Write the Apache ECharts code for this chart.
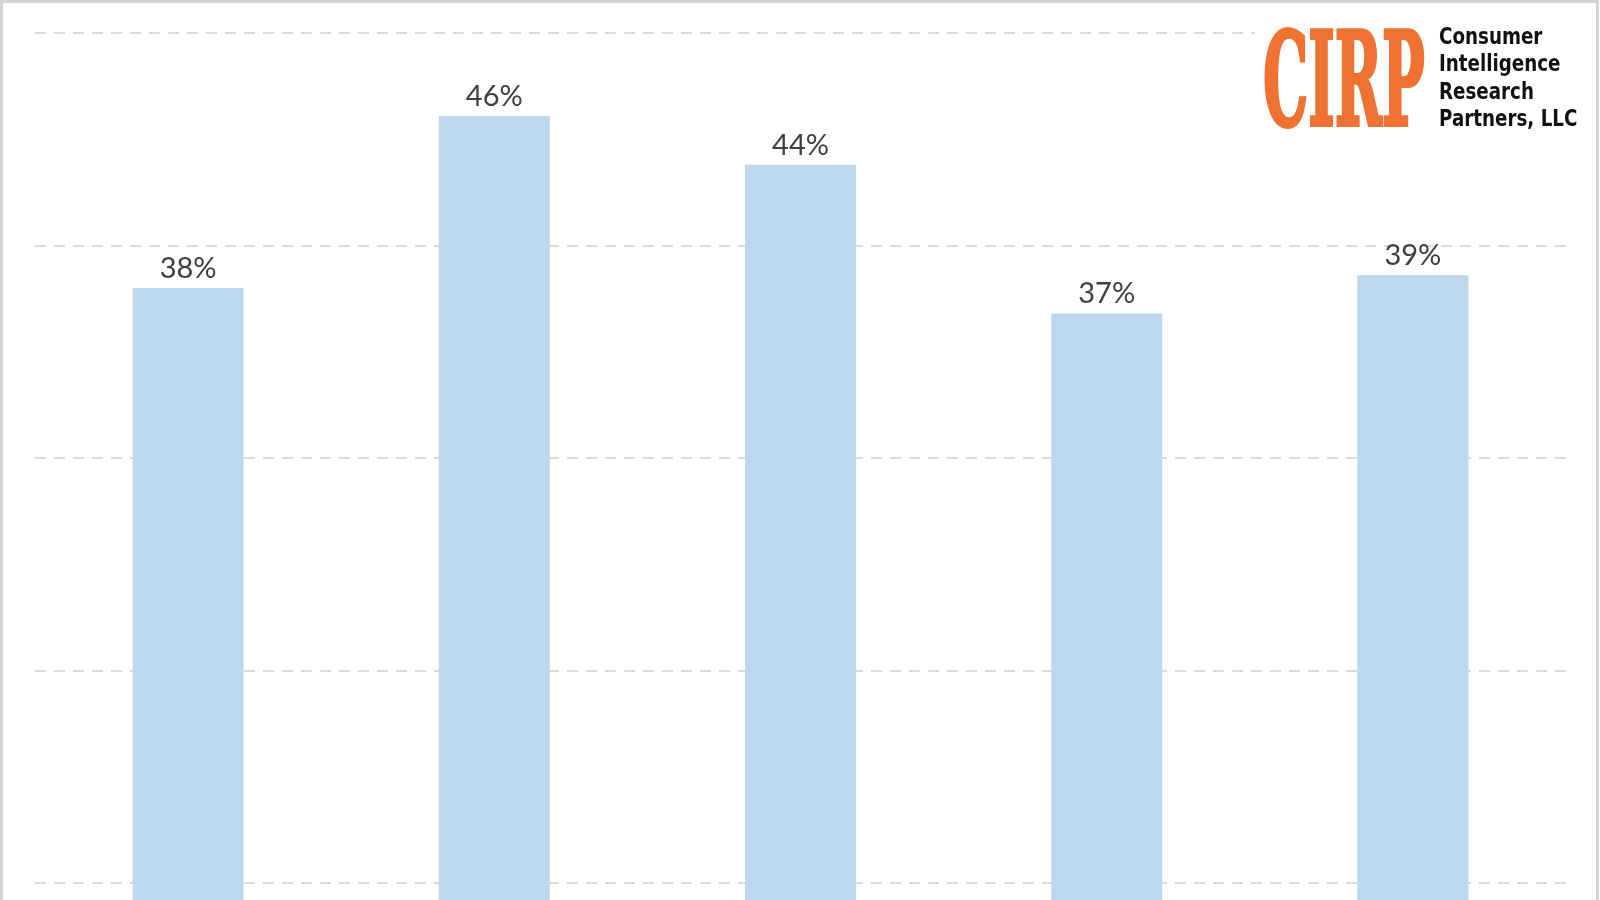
<!DOCTYPE html>
<html>
<head>
<meta charset="utf-8">
<script src="https://cdn.jsdelivr.net/npm/echarts@6/dist/echarts.min.js"></script>
<style>html,body{margin:0;padding:0;background:#fff}#c{width:1600px;height:900px}</style>
</head>
<body>
<div id="c"></div>
<script>
const categories = ['A', 'B', 'C', 'D', 'E'];
const values = [38.0, 46.1, 43.8, 36.8, 38.6];
const yTicks = [0, 10, 20, 30, 40, 50];

const chart = echarts.init(document.getElementById('c'));
chart.setOption({
  animation: false,
  backgroundColor: '#ffffff',
  grid: { left: 35, width: 1531, top: 33, height: 1062.5, outerBoundsMode: 'none', containLabel: false },
  xAxis: {
    type: 'category', data: categories,
    axisLine: { show: false }, axisTick: { show: false }, axisLabel: { show: false }
  },
  yAxis: {
    type: 'value', min: yTicks[0], max: yTicks[yTicks.length - 1], interval: 10,
    axisLine: { show: false }, axisTick: { show: false }, axisLabel: { show: false },
    splitLine: { lineStyle: { color: '#d9d9d9', width: 2, type: [11, 8] } }
  },
  series: [{
    type: 'bar', data: values, barWidth: 111,
    itemStyle: { color: '#bdd7ee' },
    label: {
      show: true, position: 'top', distance: 5,
      formatter: p => Math.round(p.value) + '%',
      fontFamily: 'Lato', fontSize: 29, color: '#404040'
    }
  }],
  graphic: [
    { type: 'rect', z: 50, shape: { x: 1.5, y: 1.5, width: 1596, height: 1000 },
      style: { fill: 'none', stroke: '#d4d4d4', lineWidth: 3 }, silent: true },
    { type: 'rect', z: 40, shape: { x: 1255, y: 18, width: 335, height: 120 }, style: { fill: '#fff' } },
    { type: 'text', z: 45, x: 1263, y: 27, scaleX: 0.71, scaleY: 1.62,
      style: { text: 'CIRP', fill: '#f07232', stroke: '#f07232', lineWidth: 2.5,
        font: 'bold 80px "DejaVu Serif"', textVerticalAlign: 'top' } },
    { type: 'text', z: 45, x: 1439, y: 24, scaleX: 0.795, scaleY: 1,
      style: { text: 'Consumer\nIntelligence\nResearch\nPartners, LLC', fill: '#111',
        font: 'bold 23px "DejaVu Sans"', lineHeight: 27.5, textVerticalAlign: 'top' } }
  ]
});
</script>
</body>
</html>
